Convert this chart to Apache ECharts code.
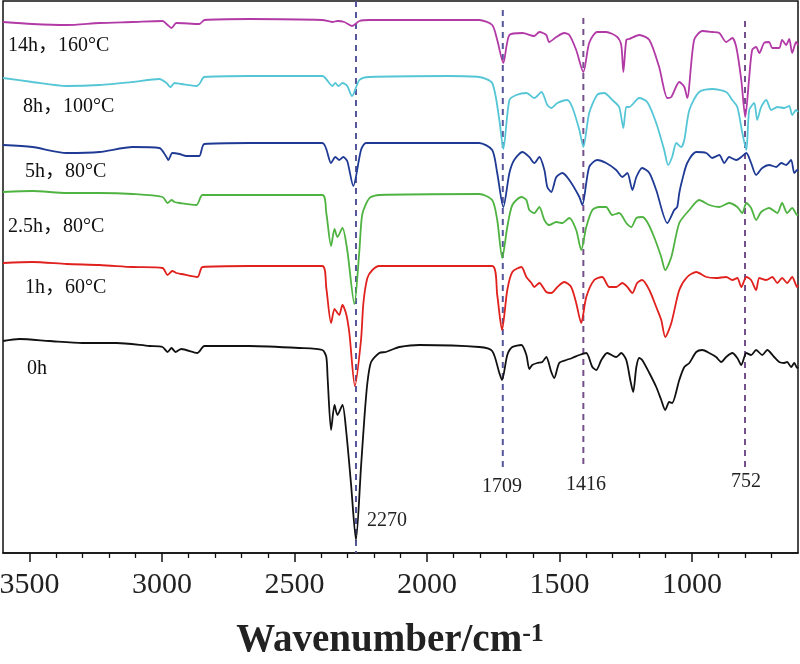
<!DOCTYPE html>
<html>
<head>
<meta charset="utf-8">
<script src="https://cdn.jsdelivr.net/npm/echarts@6/dist/echarts.min.js"></script>
<style>html,body{margin:0;padding:0;background:#fff}#c{width:800px;height:664px}</style>
</head>
<body>
<div id="c"></div>
<script>
// ---- data (wavenumber cm^-1, relative transmittance with vertical offset) ----
const seriesNames = ['14h，160°C', '8h，100°C', '5h，80°C', '2.5h，80°C', '1h，60°C', '0h'];
const s14h = [[3600,531],[3489,529],[3360,528],[3236,530],[3111,531],[2998,532],[2979,528],[2964,525],[2946,530],[2859,529],[2840,533],[2670,534],[2395,533],[2357,531],[2338,532],[2312,531],[2283,527],[2255,532],[2217,533],[1916,533],[1803,533],[1754,528],[1735,513],[1712,490],[1689,518],[1640,520],[1595,517],[1576,521],[1550,518],[1539,511],[1512,516],[1482,520],[1463,518],[1437,503],[1410,481],[1388,510],[1358,521],[1324,521],[1282,516],[1267,508],[1259,481],[1248,513],[1237,514],[1199,518],[1161,513],[1124,486],[1093,455],[1078,456],[1048,471],[1029,466],[1018,455],[992,513],[961,522],[924,521],[897,520],[871,511],[848,515],[833,506],[814,473],[799,436],[784,476],[773,503],[758,506],[746,500],[728,510],[709,511],[697,505],[671,505],[660,513],[645,508],[633,514],[622,500],[607,511],[600,508]];
const s8h = [[3600,475],[3489,471],[3360,467],[3236,468],[3111,471],[3010,474],[2983,470],[2968,466],[2953,470],[2927,469],[2870,467],[2859,469],[2840,476],[2670,477],[2395,477],[2357,467],[2346,470],[2334,467],[2319,470],[2301,467],[2283,457],[2255,473],[2217,476],[1916,477],[1803,476],[1754,470],[1727,433],[1712,404],[1689,453],[1663,458],[1625,460],[1595,455],[1568,461],[1546,448],[1531,445],[1508,450],[1471,453],[1452,446],[1425,423],[1410,406],[1388,440],[1358,458],[1331,460],[1301,453],[1275,446],[1259,425],[1248,446],[1237,446],[1199,455],[1169,451],[1135,430],[1105,403],[1090,388],[1075,396],[1059,410],[1041,406],[1029,413],[1010,443],[973,461],[924,464],[871,461],[848,453],[829,446],[810,420],[795,403],[784,443],[765,450],[754,433],[739,446],[720,453],[701,443],[678,446],[652,445],[633,447],[622,438],[607,443],[600,441]];
const s5h = [[3600,408],[3489,406],[3360,400],[3236,401],[3111,406],[3010,405],[2983,396],[2976,393],[2961,400],[2934,399],[2908,397],[2878,397],[2859,397],[2840,409],[2670,410],[2395,410],[2362,390],[2346,396],[2331,393],[2316,396],[2301,392],[2278,367],[2249,403],[2230,410],[1916,410],[1803,410],[1754,403],[1735,380],[1712,346],[1689,380],[1671,393],[1640,401],[1614,396],[1595,390],[1576,396],[1557,383],[1546,366],[1531,361],[1512,376],[1489,380],[1463,373],[1425,356],[1414,348],[1388,386],[1358,393],[1324,390],[1286,383],[1263,376],[1244,380],[1225,363],[1210,376],[1188,385],[1161,380],[1135,363],[1093,330],[1067,343],[1056,346],[1048,360],[1037,373],[1018,390],[984,401],[946,400],[924,395],[897,398],[878,390],[860,396],[833,393],[814,396],[795,400],[777,390],[758,378],[735,385],[709,388],[682,386],[663,390],[645,388],[626,393],[614,380],[603,383],[600,382]];
const s2_5h = [[3600,361],[3489,362],[3360,360],[3236,360],[3111,359],[2998,356],[2979,350],[2964,353],[2953,351],[2934,350],[2870,348],[2847,358],[2670,358],[2395,358],[2380,340],[2362,307],[2349,324],[2338,316],[2319,325],[2301,303],[2274,249],[2255,303],[2244,339],[2217,355],[2180,358],[1803,359],[1754,353],[1735,333],[1716,295],[1697,326],[1678,348],[1644,356],[1625,353],[1614,343],[1595,340],[1576,346],[1557,333],[1539,328],[1512,331],[1489,330],[1463,335],[1437,323],[1418,303],[1399,326],[1376,343],[1350,346],[1324,346],[1301,338],[1275,340],[1248,330],[1229,326],[1210,335],[1188,336],[1169,331],[1143,316],[1116,296],[1101,283],[1078,296],[1048,330],[1010,343],[973,353],[935,348],[897,346],[860,350],[829,346],[810,340],[795,350],[777,345],[758,333],[739,341],[709,345],[678,340],[660,350],[641,340],[622,345],[603,338],[600,339]];
const s1h = [[3600,290],[3489,291],[3360,289],[3236,288],[3111,286],[2998,285],[2979,278],[2961,282],[2946,280],[2927,279],[2866,276],[2847,286],[2670,287],[2395,287],[2380,265],[2362,230],[2349,244],[2338,240],[2331,238],[2319,248],[2305,239],[2293,220],[2272,167],[2249,213],[2240,250],[2225,275],[2206,283],[2180,287],[1754,287],[1735,258],[1717,223],[1697,263],[1678,281],[1644,286],[1625,276],[1606,270],[1595,266],[1576,270],[1550,261],[1531,260],[1508,266],[1482,271],[1456,266],[1437,250],[1418,230],[1399,256],[1369,273],[1339,276],[1312,266],[1286,266],[1263,270],[1244,266],[1225,260],[1207,270],[1188,273],[1161,263],[1135,246],[1116,233],[1101,216],[1078,230],[1048,263],[1018,276],[984,281],[946,276],[909,275],[871,276],[848,273],[829,275],[814,266],[795,276],[777,273],[758,263],[746,275],[720,273],[697,276],[678,270],[660,275],[641,270],[622,276],[603,266],[600,268]];
const s0h = [[3600,212],[3538,214],[3425,212],[3300,210],[3172,210],[3047,207],[2998,206],[2979,201],[2964,205],[2949,201],[2927,204],[2866,200],[2840,207],[2670,207],[2482,205],[2395,203],[2380,196],[2375,175],[2362,123],[2349,148],[2338,138],[2319,148],[2305,122],[2287,70],[2268,13],[2249,86],[2236,136],[2225,170],[2211,191],[2180,200],[2155,201],[2136,203],[2104,206],[2029,208],[1803,206],[1754,202],[1727,180],[1717,173],[1697,198],[1678,206],[1644,208],[1625,198],[1614,184],[1603,188],[1584,190],[1565,191],[1550,196],[1531,181],[1520,175],[1501,190],[1474,193],[1452,195],[1425,198],[1399,200],[1376,186],[1361,183],[1342,193],[1320,200],[1286,196],[1267,200],[1248,193],[1233,173],[1222,161],[1210,186],[1199,195],[1188,193],[1161,180],[1135,166],[1116,153],[1101,143],[1086,151],[1075,150],[1048,173],[1029,186],[1010,190],[984,201],[961,203],[935,200],[909,196],[890,191],[871,196],[848,200],[829,195],[814,188],[795,200],[777,198],[758,203],[735,198],[716,203],[690,196],[671,191],[652,190],[641,191],[626,186],[614,190],[603,185],[600,186]];
// marker (dashed) lines: position on axis, label, vertical extent
const markerPos = [2268, 1714, 1410, 800];
const markerLabels = ['2270', '1709', '1416', '752'];
const markerTop = [552, 543, 535, 532];
const markerBottom = [0, 86, 87, 85];
// tick labels
const majorTicks = [1000, 1500, 2000, 2500, 3000, 3500];
const minorTicks = [];
for (let v = 700; v <= 3500; v += 100) if (v % 500 !== 0) minorTicks.push(v);

const allData = [s14h, s8h, s5h, s2_5h, s1h, s0h];
const colors = ['#b23aa6', '#55c6d6', '#1f3a94', '#4fb341', '#e0211d', '#111111'];
const markerColors = ['#55559a', '#55559a', '#74508c', '#74508c'];

const chart = echarts.init(document.getElementById('c'));
const series = allData.map((d, i) => ({
  name: seriesNames[i], type: 'line', data: d, showSymbol: false, symbol: 'none',
  smooth: 0.25, lineStyle: { color: colors[i], width: 1.8 }, z: 3, silent: true
}));
markerPos.forEach((p, i) => {
  series.push({
    type: 'line', data: [[p, markerTop[i]], [p, markerBottom[i]]], symbol: 'none', silent: true, z: 2,
    lineStyle: { color: markerColors[i], width: 2, type: [6, 5] }
  });
});

const serif = '"Liberation Serif", "Times New Roman", "Noto Sans CJK SC", serif';
const labelPos = [[8, 47], [23, 108], [25, 173], [8, 228], [25, 289], [27, 370]];
const graphic = seriesNames.map((n, i) => ({
  type: 'text', left: labelPos[i][0], top: labelPos[i][1] - 11,
  style: { text: n, font: '20px ' + serif, fill: '#111' }
}));
const mLabelPos = [[367, 521, 'left'], [502, 487, 'center'], [586, 485, 'center'], [746, 482, 'center']];
markerLabels.forEach((t, i) => {
  graphic.push({ type: 'text', x: mLabelPos[i][0], y: mLabelPos[i][1],
    style: { text: t, font: '20px ' + serif, fill: '#222', align: mLabelPos[i][2], verticalAlign: 'middle' } });
});
graphic.push({
  type: 'text', x: 390, y: 641,
  style: {
    text: '{a|Wavenumber/cm}{s|-1}', align: 'center', verticalAlign: 'middle',
    rich: {
      a: { fontFamily: serif, fontSize: 39, fontWeight: 'bold', fill: '#222' },
      s: { fontFamily: serif, fontSize: 26, fontWeight: 'bold', fill: '#222', verticalAlign: 'top' }
    }
  }
});

chart.setOption({
  animation: false,
  grid: { left: 3, right: 2, top: 1, bottom: 111, containLabel: false, outerBoundsMode: 'none', show: true, borderColor: '#111', borderWidth: 1.5, backgroundColor: 'transparent' },
  xAxis: [{
    type: 'value', min: 600, max: 3600, inverse: true, splitNumber: 6,
    axisLine: { lineStyle: { color: '#111', width: 1.5 } },
    axisTick: { show: true, inside: false, length: 9, lineStyle: { color: '#111', width: 1.5 }, customValues: majorTicks },
    axisLabel: { customValues: majorTicks, margin: 17, fontFamily: serif, fontSize: 30, color: '#222', formatter: v => String(v) },
    splitLine: { show: false }
  }, {
    type: 'value', min: 600, max: 3600, inverse: true, position: 'bottom', gridIndex: 0,
    axisLine: { show: false },
    axisTick: { show: true, inside: false, length: 5, lineStyle: { color: '#111', width: 1.3 }, customValues: minorTicks },
    axisLabel: { show: false }, splitLine: { show: false }
  }],
  yAxis: { type: 'value', min: 0, max: 552, show: false, splitLine: { show: false } },
  series: series,
  graphic: graphic
});
</script>
</body>
</html>
